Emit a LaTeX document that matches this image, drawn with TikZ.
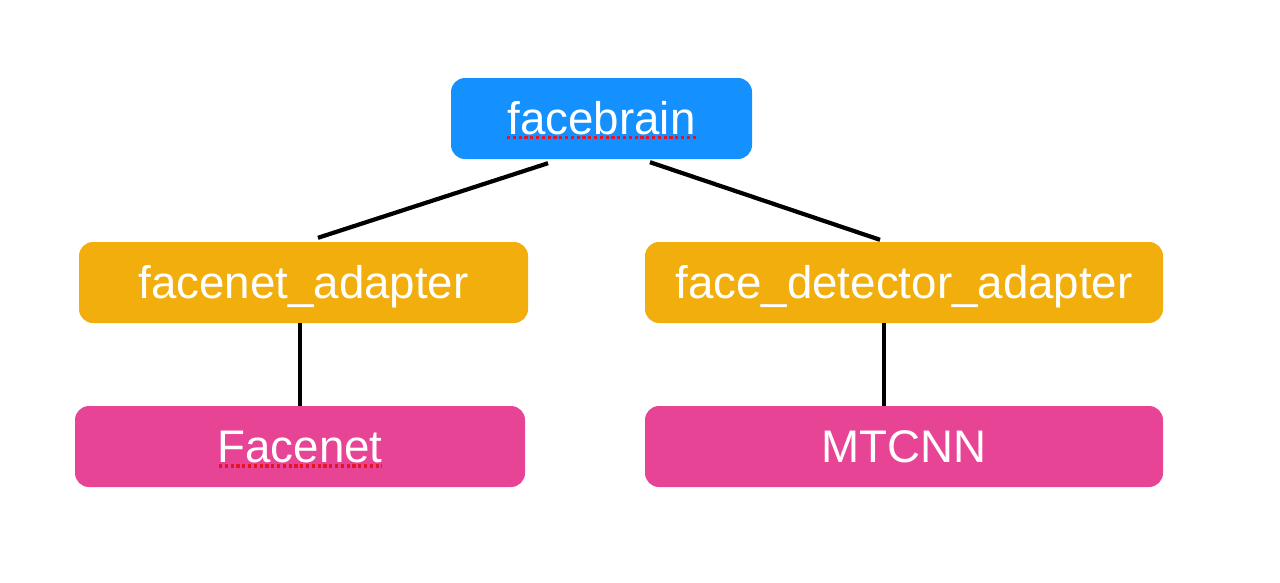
\documentclass[tikz,border=0pt]{standalone}
\usepackage{fontspec}
\setmainfont{Liberation Sans}
\definecolor{fbblue}{RGB}{20,144,255}
\definecolor{adorange}{RGB}{242,174,12}
\definecolor{libpink}{RGB}{232,68,150}
\definecolor{spellred}{RGB}{230,20,40}
\begin{document}
\begin{tikzpicture}[x=1pt,y=-1pt,
  box/.style={rectangle, rounded corners=14pt, draw=none, text=white,
    font=\fontsize{45.7}{50}\selectfont, text height=32.7pt, text depth=0pt,
    inner xsep=0pt, inner ysep=0pt, minimum height=81pt},
  conn/.style={line width=4.2pt, black},
  squig/.style={spellred, line width=3.4pt, dash pattern=on 3.2pt off 2.6pt}]
\useasboundingbox (0,0) rectangle (1280,582);
\node[box, fill=fbblue, minimum width=301pt] (fb) at (601.5,118.5) {facebrain};
\node[box, fill=adorange, minimum width=449pt] (fa) at (303.5,282.5) {facenet\_adapter};
\node[box, fill=adorange, minimum width=518pt] (fda) at (904,282.5) {face\_detector\_adapter};
\node[box, fill=libpink, minimum width=450pt] (fn) at (300,446.5) {Facenet};
\node[box, fill=libpink, minimum width=518pt] (mt) at (904,446.5) {MTCNN};
% connector end points
\coordinate (fbL) at ([xshift=-53.5pt,yshift=-4pt]fb.south);
\coordinate (fbR) at ([xshift=48.5pt,yshift=-3pt]fb.south);
\coordinate (faT) at ([xshift=14.5pt,yshift=4pt]fa.north);
\coordinate (fdaT) at ([xshift=-24pt,yshift=2pt]fda.north);
\draw[conn] (fbL) -- (faT);
\draw[conn] (fbR) -- (fdaT);
\draw[conn] ([xshift=-3.5pt]fa.south) -- ([xshift=0pt]fn.north);
\draw[conn] ([xshift=-20pt]fda.south) -- ([xshift=-20pt]mt.north);
% spell-check underlines
\coordinate (fbU1) at (507,137.5);
\coordinate (fbU2) at (696,137.5);
\draw[squig] (fbU1) -- (fbU2);
\coordinate (fnU1) at (219,466);
\coordinate (fnU2) at (382,466);
\draw[squig] (fnU1) -- (fnU2);
\end{tikzpicture}
\end{document}
